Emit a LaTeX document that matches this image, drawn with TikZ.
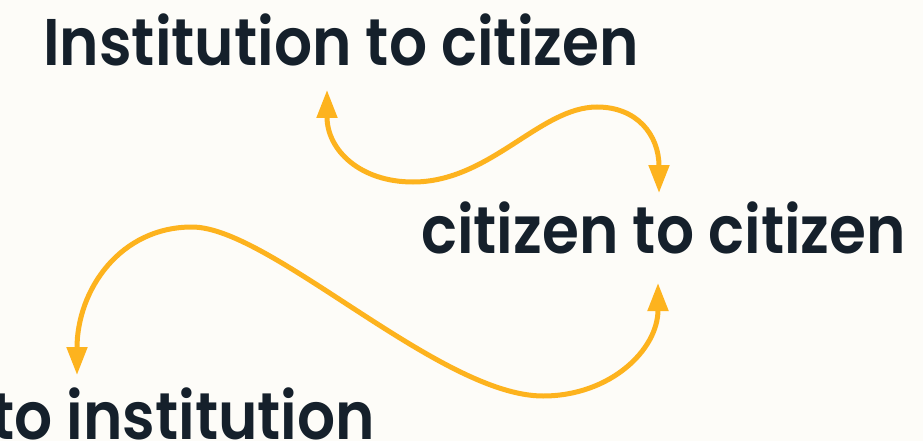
\documentclass[tikz,border=0pt]{standalone}
\usepackage{fontspec}
\setmainfont{Poppins}
\newfontfamily\headfont{Poppins SemiBold}[FakeStretch=0.905]
\usetikzlibrary{arrows.meta}
\definecolor{flowPaper}{HTML}{FDFCF8}
\definecolor{flowInk}{HTML}{15202B}
\definecolor{flowGold}{HTML}{FDB31E}
\tikzset{
  lbl/.style={inner sep=0pt,anchor=base west,
    font=\headfont\fontsize{66}{72}\selectfont,text=flowInk},
  arrw/.style={{Triangle[length=28pt,width=20pt]}-{Triangle[length=28pt,width=20pt]},
    line width=5pt,color=flowGold},
}
\begin{document}
\begin{tikzpicture}[x=1pt,y=-1pt]
  \fill[flowPaper] (0,0) rectangle (923,441);
  \useasboundingbox (0,0) rectangle (923,441);

  \node[lbl] (inst) at (43,66) {Institution to citizen};
  \node[lbl] (peer) at (421,253) {citizen to citizen};
  \node[lbl] (back) at (-9,439) {to institution};

  % arrow ends
  \coordinate (instIn) at (327,90);
  \coordinate (peerTop) at (659,193);
  \coordinate (backIn) at (77,375);
  \coordinate (peerBot) at (658,283);

  \draw[arrw] (instIn) .. controls (327,150) and (360,182) .. (413,182)
    .. controls (490,182) and (540,107) .. (597,107)
    .. controls (637,107) and (659,135) .. (peerTop);
  \draw[arrw] (backIn) .. controls (77,290) and (120,227) .. (192,227)
    .. controls (270,227) and (440,396) .. (543,396)
    .. controls (610,396) and (658,350) .. (peerBot);
\end{tikzpicture}
\end{document}
